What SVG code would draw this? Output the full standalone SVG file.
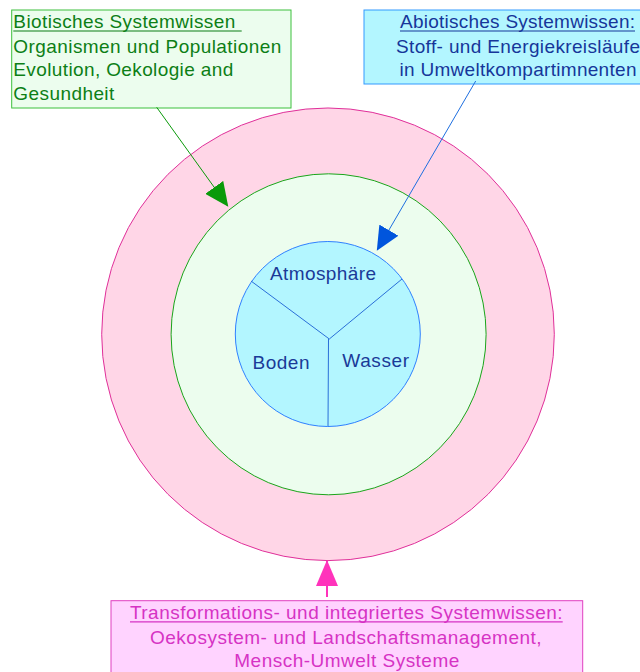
<svg xmlns="http://www.w3.org/2000/svg" width="640" height="672" viewBox="0 0 640 672">
<style>
text{font-family:"Liberation Sans",Arial,Helvetica,sans-serif;font-size:19px}
.g{fill:#0d7f16}
.b{fill:#16369a}
.p{fill:#d633c4}
.c{fill:#1a3a98}
.ul{stroke-width:1.2}
</style>
<defs>
<marker id="ag" markerWidth="24" markerHeight="22" refX="23" refY="11" orient="auto" markerUnits="userSpaceOnUse"><path d="M0,0 L24,11 L0,22 Z" fill="#0a9a0a"/></marker>
<marker id="ab" markerWidth="24" markerHeight="22" refX="23" refY="11" orient="auto" markerUnits="userSpaceOnUse"><path d="M0,0 L24,11 L0,22 Z" fill="#0055dd"/></marker>
<marker id="ap" markerWidth="26" markerHeight="22" refX="25" refY="11" orient="auto" markerUnits="userSpaceOnUse"><path d="M0,0 L26,11 L0,22 Z" fill="#ff33bb"/></marker>
</defs>
<g id="outer-ring">
<circle cx="328" cy="334.3" r="226.3" fill="#ffd6e7" stroke="#e0309a" stroke-width="1"/>
</g>
<g id="middle-ring">
<ellipse cx="328.6" cy="334.3" rx="157.5" ry="160.5" fill="#ecfdee" stroke="#1aa51a" stroke-width="1"/>
</g>
<g id="inner-circle">
<circle cx="327.8" cy="334" r="92.5" fill="#b3f6ff" stroke="#2f80ff" stroke-width="1"/>
<g stroke="#2a6fd8" stroke-width="1" fill="none">
<line x1="329.3" y1="339" x2="251" y2="281"/>
<line x1="329.3" y1="339" x2="402" y2="279"/>
<line x1="328.5" y1="339" x2="328" y2="426"/>
</g>
<text class="c" x="323" y="280" text-anchor="middle" textLength="106">Atmosphäre</text>
<text class="c" x="281" y="369" text-anchor="middle" textLength="57">Boden</text>
<text class="c" x="375.7" y="367.3" text-anchor="middle" textLength="66.7">Wasser</text>
</g>
<g id="biotic-box">
<rect x="11.7" y="10" width="279.3" height="98" fill="#ecfdee" stroke="#3cc03c" stroke-width="1"/>
<text class="g" x="13.3" y="28.3" textLength="222">Biotisches Systemwissen</text>
<line class="ul" x1="13.3" y1="31" x2="241.7" y2="31" stroke="#0d7f16"/>
<text class="g" x="13.3" y="52.5" textLength="268">Organismen und Populationen</text>
<text class="g" x="13.3" y="76.2" textLength="220">Evolution, Oekologie and</text>
<text class="g" x="13.3" y="100" textLength="101">Gesundheit</text>
</g>
<g id="abiotic-box">
<rect x="364" y="10" width="308" height="74" fill="#b3f6ff" stroke="#3399ff" stroke-width="1"/>
<text class="b" x="517.5" y="28.3" text-anchor="middle" textLength="235">Abiotisches Systemwissen:</text>
<line class="ul" x1="400" y1="31" x2="635" y2="31" stroke="#16369a"/>
<text class="b" x="518" y="52.5" text-anchor="middle" textLength="244">Stoff- und Energiekreisläufe</text>
<text class="b" x="518" y="76.2" text-anchor="middle" textLength="237">in Umweltkompartimnenten</text>
</g>
<g id="transformation-box">
<rect x="111" y="600.7" width="471.7" height="80" fill="#ffd3ff" stroke="#e040c0" stroke-width="1"/>
<text class="p" x="346.3" y="619.3" text-anchor="middle" textLength="432.7">Transformations- und integriertes Systemwissen:</text>
<line class="ul" x1="130" y1="621.8" x2="562.7" y2="621.8" stroke="#d633c4"/>
<text class="p" x="345.8" y="644.3" text-anchor="middle" textLength="391.7">Oekosystem- und Landschaftsmanagement,</text>
<text class="p" x="346.8" y="667.3" text-anchor="middle" textLength="225">Mensch-Umwelt Systeme</text>
</g>
<g id="connectors">
<line x1="156.7" y1="107.3" x2="227.7" y2="206" stroke="#0a9a0a" stroke-width="1" marker-end="url(#ag)"/>
<line x1="475.7" y1="81" x2="377.3" y2="250" stroke="#1e6fe0" stroke-width="1" marker-end="url(#ab)"/>
<line x1="327" y1="597" x2="327" y2="561" stroke="#ff33bb" stroke-width="2" marker-end="url(#ap)"/>
</g>
</svg>
